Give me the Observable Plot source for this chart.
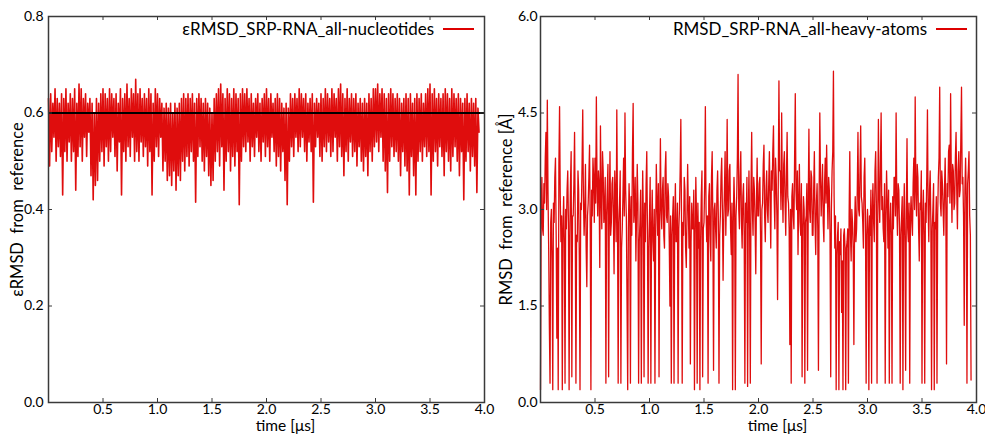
<!DOCTYPE html>
<html>
<head>
<meta charset="utf-8">
<script src="https://cdn.jsdelivr.net/npm/d3@7"></script>
<script src="https://cdn.jsdelivr.net/npm/@observablehq/plot@0.6"></script>
<style>
  html, body { margin: 0; padding: 0; background: #fff; }
  #wrap { position: relative; width: 985px; height: 438px; font-family: Lato, "Open Sans", sans-serif; }
  .panel { position: absolute; top: 0; }
  .legend { position: absolute; top: 20px; display: flex; align-items: center; font-size: 17px; line-height: 18px; color: #000; white-space: nowrap; }
  .legend .swatch { display: inline-block; width: 31px; height: 0; border-top: 2px solid #dd0000; margin-left: 9px; }
  svg { overflow: visible; }
</style>
</head>
<body>
<div id="wrap">
  <div class="panel" id="left" style="left:0px;width:490px;height:438px"></div>
  <div class="panel" id="right" style="left:490px;width:495px;height:438px"></div>
</div>
<script>
// ---------- DATA ----------
const timeLabel = "time [μs]";
const xTicks = [0.5, 1.0, 1.5, 2.0, 2.5, 3.0, 3.5, 4.0];

// Left panel: eRMSD (sampled every 0.01 μs from t = 0)
const epsName = "εRMSD_SRP-RNA_all-nucleotides";
const epsYLabel = "εRMSD\u00a0 from\u00a0 reference";
const epsYTicks = [0.0, 0.2, 0.4, 0.6, 0.8];
const epsRef = [0.6];
const epsStep = 0.01;
const epsValues = [
  0.63,0.49,0.64,0.52,0.62,0.55,0.65,0.50,0.63,0.53,
  0.62,0.51,0.64,0.43,0.63,0.52,0.65,0.50,0.62,0.54,
  0.64,0.50,0.63,0.52,0.65,0.44,0.62,0.51,0.66,0.53,
  0.65,0.50,0.63,0.55,0.64,0.51,0.62,0.56,0.63,0.47,
  0.62,0.42,0.60,0.45,0.63,0.46,0.62,0.50,0.64,0.52,
  0.65,0.49,0.64,0.53,0.63,0.50,0.65,0.52,0.64,0.55,
  0.63,0.51,0.64,0.48,0.62,0.54,0.65,0.43,0.63,0.52,
  0.64,0.50,0.66,0.53,0.63,0.51,0.65,0.55,0.64,0.50,
  0.67,0.52,0.64,0.50,0.65,0.54,0.63,0.51,0.64,0.53,
  0.63,0.49,0.65,0.52,0.64,0.43,0.62,0.50,0.65,0.53,
  0.64,0.51,0.63,0.55,0.62,0.48,0.61,0.50,0.62,0.46,
  0.61,0.47,0.62,0.45,0.60,0.48,0.62,0.44,0.61,0.47,
  0.62,0.46,0.63,0.50,0.64,0.48,0.63,0.51,0.64,0.49,
  0.63,0.52,0.64,0.50,0.62,0.415,0.63,0.51,0.64,0.53,
  0.63,0.50,0.62,0.48,0.63,0.51,0.62,0.47,0.61,0.45,
  0.60,0.46,0.63,0.50,0.64,0.52,0.65,0.49,0.66,0.53,
  0.64,0.44,0.63,0.50,0.65,0.52,0.64,0.48,0.63,0.51,
  0.65,0.49,0.64,0.52,0.63,0.41,0.64,0.50,0.65,0.53,
  0.64,0.52,0.65,0.54,0.63,0.50,0.64,0.53,0.62,0.51,
  0.63,0.55,0.64,0.52,0.62,0.50,0.63,0.54,0.64,0.51,
  0.65,0.53,0.63,0.50,0.64,0.55,0.62,0.52,0.63,0.49,
  0.64,0.51,0.63,0.48,0.62,0.52,0.61,0.46,0.62,0.41,
  0.61,0.50,0.64,0.53,0.63,0.51,0.64,0.55,0.63,0.52,
  0.65,0.53,0.64,0.55,0.63,0.52,0.64,0.50,0.62,0.54,
  0.63,0.52,0.64,0.415,0.62,0.53,0.63,0.55,0.62,0.51,
  0.64,0.50,0.63,0.53,0.65,0.52,0.64,0.54,0.63,0.51,
  0.65,0.52,0.64,0.55,0.63,0.50,0.65,0.53,0.66,0.51,
  0.64,0.47,0.63,0.52,0.65,0.50,0.63,0.54,0.64,0.51,
  0.63,0.52,0.64,0.49,0.62,0.53,0.63,0.50,0.62,0.48,
  0.63,0.51,0.62,0.47,0.64,0.52,0.63,0.50,0.65,0.53,
  0.65,0.54,0.66,0.52,0.64,0.55,0.65,0.50,0.64,0.48,
  0.63,0.435,0.64,0.50,0.65,0.53,0.64,0.51,0.63,0.52,
  0.64,0.50,0.63,0.47,0.62,0.52,0.63,0.49,0.64,0.48,
  0.63,0.43,0.64,0.51,0.62,0.47,0.63,0.43,0.64,0.50,
  0.63,0.52,0.64,0.50,0.62,0.53,0.64,0.51,0.65,0.52,
  0.66,0.43,0.64,0.50,0.65,0.52,0.63,0.49,0.64,0.53,
  0.63,0.51,0.64,0.47,0.65,0.52,0.64,0.50,0.63,0.48,
  0.65,0.51,0.64,0.53,0.63,0.50,0.64,0.47,0.63,0.52,
  0.62,0.42,0.63,0.50,0.64,0.52,0.62,0.48,0.63,0.51,
  0.62,0.49,0.63,0.435,0.61,0.56
];

// Right panel: heavy-atom RMSD in Å (sampled every 0.00625 μs from t = 0)
const rmsdName = "RMSD_SRP-RNA_all-heavy-atoms";
const rmsdYLabel = "RMSD\u00a0 from\u00a0 reference [Å]";
const rmsdYTicks = [0.0, 1.5, 3.0, 4.5, 6.0];
const rmsdStep = 0.00625;
const rmsdValues = [
  0.2,2.9,3.5,2.7,2.6,3.4,3.1,3.8,4.2,3.0,4.7,3.3,2.4,1.2,0.3,2.8,
  3.0,2.2,0.2,3.1,2.8,3.5,3.8,2.6,1.0,2.4,0.2,3.7,4.6,3.2,2.5,2.9,
  0.2,2.7,3.2,2.5,0.3,3.0,2.7,3.3,3.6,2.8,0.2,2.6,3.4,3.9,0.4,2.9,
  2.9,3.4,4.2,2.8,0.3,2.6,2.5,3.6,3.3,2.2,0.2,3.1,3.0,3.7,4.55,3.2,
  2.6,3.0,3.7,2.4,1.8,2.9,3.1,3.5,4.0,2.7,0.2,3.3,2.9,3.8,3.5,2.8,
  3.8,3.1,4.75,3.4,2.9,3.6,3.4,2.1,4.3,3.2,2.7,3.9,3.6,2.8,3.0,3.5,
  0.3,2.9,3.3,3.7,0.4,3.0,3.9,2.6,2.8,3.4,3.5,2.9,2.0,3.6,3.2,2.5,
  4.55,3.0,0.3,2.8,3.1,3.6,0.3,2.4,2.7,3.2,3.8,2.9,4.5,3.3,2.9,1.6,
  0.2,2.7,3.4,3.0,0.3,3.2,2.6,3.9,4.65,2.8,3.0,3.5,2.2,2.9,3.7,3.1,
  0.3,2.5,2.8,3.3,0.3,2.6,3.6,2.9,0.4,3.1,2.5,3.4,3.9,2.7,0.3,2.4,
  2.9,3.5,0.3,2.7,3.3,2.5,2.2,3.0,0.3,2.6,3.7,3.1,2.6,3.4,0.4,2.8,
  4.1,3.0,2.7,3.3,3.5,2.6,2.4,3.6,3.9,2.9,2.8,3.4,3.2,2.5,1.5,2.9,
  0.3,2.6,2.9,3.2,0.3,2.8,3.4,2.5,2.5,3.1,0.3,2.7,3.0,3.6,4.4,2.9,
  0.3,2.8,2.6,3.5,3.3,2.4,2.1,2.9,3.7,3.0,2.4,3.2,0.6,2.5,3.1,2.7,
  2.7,3.3,0.2,2.6,3.5,2.9,0.3,3.1,2.4,2.8,0.2,2.5,3.2,3.6,0.4,2.7,
  2.8,3.4,4.6,3.0,2.5,2.9,0.3,3.2,3.4,2.6,2.2,3.5,3.9,2.8,0.5,3.0,
  3.1,2.7,2.4,3.3,3.6,2.9,0.3,2.6,2.9,3.5,3.8,3.0,1.9,2.8,3.3,3.9,
  2.6,3.2,4.4,2.9,3.0,3.6,3.7,2.7,2.3,3.1,0.2,2.8,3.5,3.0,0.2,2.9,
  3.2,3.8,5.1,3.0,2.7,3.5,3.9,2.8,2.4,3.2,3.4,2.6,0.3,3.1,2.8,3.5,
  0.25,2.9,3.6,2.7,0.3,3.3,4.2,3.0,2.6,3.5,3.3,2.8,2.0,3.1,3.8,2.9,
  2.9,3.4,3.5,2.6,0.6,3.0,3.1,3.7,4.0,2.9,2.5,3.3,3.6,3.0,2.8,3.4,
  3.9,3.1,2.4,3.6,3.3,3.9,4.3,3.2,2.7,3.8,3.5,2.9,1.6,3.4,5.0,3.6,
  3.6,3.0,4.5,3.3,2.8,3.7,3.9,3.1,2.6,3.5,4.2,3.2,3.1,2.7,0.9,3.0,
  0.3,3.2,3.4,2.9,2.7,3.8,4.8,3.3,3.0,3.6,2.3,3.1,3.7,2.8,2.6,3.4,
  0.4,2.7,3.2,3.0,0.3,2.8,2.9,3.4,0.5,3.1,4.25,3.0,2.8,3.6,3.5,2.6,
  2.6,3.3,3.9,2.8,2.3,3.1,3.4,2.7,0.5,3.2,4.5,3.5,2.9,3.3,3.7,2.8,
  2.5,3.4,3.8,3.1,4.0,3.3,2.7,3.5,3.3,2.6,0.4,3.0,3.6,3.9,5.15,3.2,
  2.4,2.9,0.2,2.3,2.6,2.8,0.2,2.5,2.3,2.7,1.4,2.2,0.2,2.6,2.7,2.4,
  0.2,2.4,2.5,2.7,0.3,2.9,3.9,2.6,2.2,3.0,2.8,2.4,0.9,2.7,3.2,2.5,
  2.7,3.3,4.2,3.0,2.9,3.6,4.3,3.2,3.1,2.8,2.4,3.5,3.8,2.9,0.3,2.6,
  3.0,2.7,0.2,2.9,2.6,3.3,0.3,3.0,3.4,2.8,2.5,3.6,3.9,3.1,0.3,2.8,
  4.4,3.2,2.8,3.7,4.5,3.0,3.2,2.7,2.5,3.4,0.3,2.9,3.6,3.1,2.4,3.3,
  0.3,2.8,3.1,2.6,0.3,3.2,2.7,3.5,3.5,2.9,4.5,3.1,2.6,3.4,3.3,2.7,
  0.3,2.6,2.9,3.2,0.2,2.8,3.4,2.5,0.5,3.0,4.1,2.7,2.5,3.1,0.3,2.9,
  3.2,2.8,2.6,3.4,3.8,3.0,4.75,3.3,2.9,3.7,3.5,2.7,2.2,3.1,3.0,3.6,
  0.3,2.9,3.3,2.6,0.3,3.1,2.8,3.5,4.55,3.0,2.5,3.3,3.6,2.8,0.2,2.7,
  3.0,3.4,0.2,2.8,2.7,3.2,0.3,2.9,3.5,3.8,4.9,3.1,2.9,3.6,3.4,3.0,
  2.6,3.3,3.8,3.0,0.6,3.4,3.2,3.9,4.0,3.1,4.8,3.5,2.8,3.7,3.6,3.0,
  3.1,3.8,4.2,3.3,2.7,3.6,3.9,3.2,3.3,4.1,4.9,3.4,3.5,2.9,1.2,3.3,
  3.8,3.2,0.3,3.4,3.6,3.9,2.9,2.6,0.35
];

// ---------- STYLE ----------
const RED = "#dd0000";
const FRAME = "#3a3a3a";
const FONT = "Lato, 'Open Sans', sans-serif";

function panel({values, step, yDomain, yTicks, yLabel, ref, width, marginLeft, marginRight, yTickPad, labelDx, lineWidth}) {
  const data = values.map((v, i) => ({t: i * step, v}));
  const height = 438, marginTop = 16, marginBottom = 36;
  const innerH = height - marginTop - marginBottom;
  const innerW = width - marginLeft - marginRight;
  const fmt = d3.format(".1f");
  const marks = [
    Plot.lineY(data, {x: "t", y: "v", stroke: RED, strokeWidth: lineWidth, strokeOpacity: 0.95})
  ];
  if (ref) marks.push(Plot.ruleY(ref, {stroke: "#000", strokeWidth: 2.2}));
  marks.push(
    // inward ticks (bottom / top / left / right)
    Plot.tickX(xTicks.filter(d => d < 4), {x: d => d, insetTop: innerH - 4, stroke: FRAME, strokeWidth: 1}),
    Plot.tickX(xTicks.filter(d => d < 4), {x: d => d, insetBottom: innerH - 4, stroke: FRAME, strokeWidth: 1}),
    Plot.tickY(yTicks, {y: d => d, insetRight: innerW - 4, stroke: FRAME, strokeWidth: 1}),
    Plot.tickY(yTicks, {y: d => d, insetLeft: innerW - 4, stroke: FRAME, strokeWidth: 1}),
    Plot.axisX(xTicks, {tickSize: 0, tickPadding: 2, tickFormat: fmt, fontSize: 14, label: null}),
    Plot.axisY(yTicks, {tickSize: 0, tickPadding: yTickPad, tickFormat: fmt, fontSize: 14, label: null}),
    Plot.frame({stroke: FRAME, strokeWidth: 1.5}),
    Plot.text([yLabel], {frameAnchor: "left", rotate: -90, dx: labelDx, fontSize: 16.5, textAnchor: "middle"}),
    Plot.text([timeLabel], {frameAnchor: "bottom", dx: 19, dy: 28, fontSize: 15.5, textAnchor: "middle"})
  );
  return Plot.plot({
    width, height, marginTop, marginBottom, marginLeft, marginRight,
    style: {fontFamily: FONT, fontSize: "14px", color: "#000", background: "transparent", overflow: "visible"},
    x: {domain: [0, 4]},
    y: {domain: yDomain},
    marks
  });
}

function legend(container, name, rightPx) {
  const div = document.createElement("div");
  div.className = "legend";
  div.style.right = rightPx + "px";
  const span = document.createElement("span");
  span.textContent = name;
  const sw = document.createElement("span");
  sw.className = "swatch";
  div.appendChild(span);
  div.appendChild(sw);
  container.appendChild(div);
}

const left = document.getElementById("left");
left.appendChild(panel({values: epsValues, step: epsStep, yDomain: [0, 0.8], yTicks: epsYTicks, yLabel: epsYLabel, ref: epsRef,
  width: 490, marginLeft: 48, marginRight: 6, yTickPad: 5, labelDx: -31, lineWidth: 1.6}));
legend(left, epsName, 16);

const right = document.getElementById("right");
right.appendChild(panel({values: rmsdValues, step: rmsdStep, yDomain: [0, 6], yTicks: rmsdYTicks, yLabel: rmsdYLabel, ref: null,
  width: 495, marginLeft: 50, marginRight: 9, yTickPad: 3, labelDx: -34, lineWidth: 1.3}));
legend(right, rmsdName, 18);
</script>
</body>
</html>
